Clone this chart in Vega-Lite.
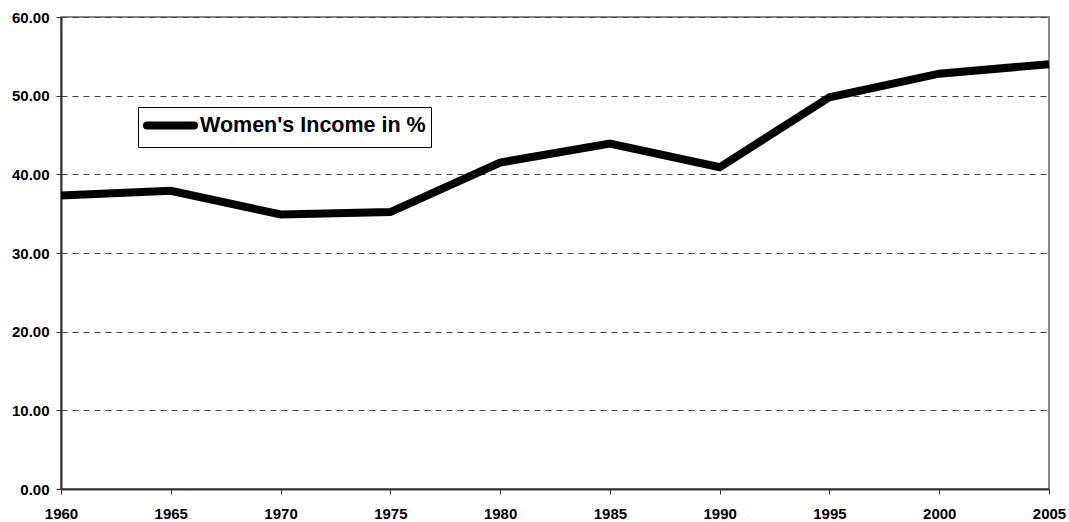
{
  "$schema": "https://vega.github.io/schema/vega-lite/v6.json",
  "width": 988,
  "height": 472,
  "autosize": {"type": "none"},
  "padding": {"left": 61, "top": 17, "right": 20, "bottom": 33},
  "background": "white",
  "config": {
    "view": {"stroke": "#888888", "strokeWidth": 2},
    "font": "Liberation Sans"
  },
  "data": {
    "values": [
      {"year": 1960, "value": 37.3, "series": "Women's Income in %"},
      {"year": 1965, "value": 37.9, "series": "Women's Income in %"},
      {"year": 1970, "value": 34.9, "series": "Women's Income in %"},
      {"year": 1975, "value": 35.2, "series": "Women's Income in %"},
      {"year": 1980, "value": 41.5, "series": "Women's Income in %"},
      {"year": 1985, "value": 43.9, "series": "Women's Income in %"},
      {"year": 1990, "value": 40.9, "series": "Women's Income in %"},
      {"year": 1995, "value": 49.8, "series": "Women's Income in %"},
      {"year": 2000, "value": 52.8, "series": "Women's Income in %"},
      {"year": 2005, "value": 54.0, "series": "Women's Income in %"}
    ]
  },
  "mark": {"type": "line", "strokeWidth": 8, "strokeJoin": "miter", "strokeCap": "butt"},
  "encoding": {
    "x": {
      "field": "year", "type": "quantitative",
      "scale": {"domain": [1960, 2005], "nice": false, "zero": false},
      "axis": {
        "title": null, "values": [1960, 1965, 1970, 1975, 1980, 1985, 1990, 1995, 2000, 2005],
        "format": "d", "grid": false, "domainColor": "#333333", "domainWidth": 2,
        "tickColor": "#333333", "tickSize": 5, "tickWidth": 1,
        "labelFont": "Liberation Sans", "labelFontWeight": "bold", "labelFontSize": 15,
        "labelColor": "black", "labelPadding": 12, "labelFlush": false
      }
    },
    "y": {
      "field": "value", "type": "quantitative",
      "scale": {"domain": [0, 60], "nice": false},
      "axis": {
        "title": null, "values": [0, 10, 20, 30, 40, 50, 60], "format": ".2f",
        "grid": true, "gridDash": [6, 5], "gridColor": "#444444", "gridWidth": 1,
        "domainColor": "#333333", "domainWidth": 2,
        "tickColor": "#333333", "tickSize": 5, "tickWidth": 1,
        "labelFont": "Liberation Sans", "labelFontWeight": "bold", "labelFontSize": 15,
        "labelColor": "black", "labelPadding": 7
      }
    },
    "color": {
      "field": "series", "type": "nominal",
      "scale": {"range": ["black"]},
      "legend": {
        "title": null, "orient": "none", "legendX": 77, "legendY": 90,
        "symbolType": "M-1,0H3.947", "symbolStrokeWidth": 8, "symbolSize": 361,
        "symbolStrokeColor": "black", "symbolFillColor": "transparent",
        "labelFont": "Liberation Sans", "labelFontWeight": "bold", "labelFontSize": 21.5,
        "labelColor": "black", "labelLimit": 400, "labelOffset": 30,
        "strokeColor": "black", "fillColor": "white", "padding": 5,
        "encode": {"symbols": {"update": {"strokeCap": {"value": "round"}}}}
      }
    }
  }
}
